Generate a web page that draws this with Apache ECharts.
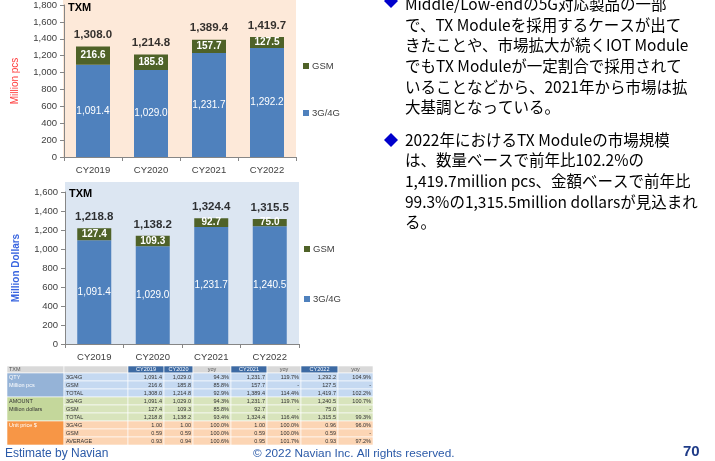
<!DOCTYPE html>
<html>
<head>
<meta charset="utf-8">
<script src="https://cdn.jsdelivr.net/npm/echarts@6/dist/echarts.min.js"></script>
<style>
html,body{margin:0;padding:0;background:#fff;}
#main{width:715px;height:461px;}
</style>
</head>
<body>
<div id="main"></div>
<script>
// データ
var years = ["CY2019","CY2020","CY2021","CY2022"];
var qty3g = [1091.4, 1029.0, 1231.7, 1292.2];
var qtyGsm = [216.6, 185.8, 157.7, 127.5];
var qtyTotal = [1308.0, 1214.8, 1389.4, 1419.7];
var amt3g = [1091.4, 1029.0, 1231.7, 1240.5];
var amtGsm = [127.4, 109.3, 92.7, 75.0];
var amtTotal = [1218.8, 1138.2, 1324.4, 1315.5];
var price3g = [1.00, 1.00, 1.00, 0.96];
var priceGsm = [0.59, 0.59, 0.59, 0.59];
var priceAvg = [0.93, 0.94, 0.95, 0.93];
var yoyQty3g = ["94.3%","119.7%","104.9%"];
var yoyQtyGsm = ["85.8%","-","-"];
var yoyQtyTotal = ["92.9%","114.4%","102.2%"];
var yoyAmt3g = ["94.3%","119.7%","100.7%"];
var yoyAmtGsm = ["85.8%","-","-"];
var yoyAmtTotal = ["93.4%","116.4%","99.3%"];
var yoyPrice3g = ["100.0%","100.0%","96.0%"];
var yoyPriceGsm = ["100.0%","100.0%","-"];
var yoyPriceAvg = ["100.6%","101.7%","97.2%"];

var bullet1 = [
    "Middle/Low-endの5G対応製品の一部",
    "で、TX Moduleを採用するケースが出て",
    "きたことや、市場拡大が続くIOT Module",
    "でもTX Moduleが一定割合で採用されて",
    "いることなどから、2021年から市場は拡",
    "大基調となっている。"
];
var bullet2 = [
    "2022年におけるTX Moduleの市場規模",
    "は、数量ベースで前年比102.2%の",
    "1,419.7million pcs、金額ベースで前年比",
    "99.3%の1,315.5million dollarsが見込まれ",
    "る。"
];

function fmt1(v){ return v.toLocaleString("en-US",{minimumFractionDigits:1,maximumFractionDigits:1}); }
function fmt2(v){ return v.toFixed(2); }

var blue = "#4f81bd", green = "#4f6228";
var latin = "Liberation Sans, Arial, sans-serif";
var jp = "Noto Sans CJK JP";

var chart = echarts.init(document.getElementById("main"));

function xAx(i){
    return {
        gridIndex:i,
        type:"category",
        data:years,
        axisLine:{lineStyle:{color:"#868686",width:1}},
        axisTick:{show:true,length:4,lineStyle:{color:"#868686"}},
        axisLabel:{color:"#404040",fontSize:9.5,fontFamily:latin,margin:8}
    };
}
function yAx(i,max,name,nameColor,weight){
    return {
        gridIndex:i,
        type:"value",
        min:0,
        max:max,
        interval:200,
        name:name,
        nameLocation:"middle",
        nameGap:44,
        nameTextStyle:{color:nameColor,fontSize:10,fontWeight:weight,fontFamily:latin},
        splitLine:{show:false},
        axisLine:{show:true,lineStyle:{color:"#868686",width:1}},
        axisTick:{show:true,length:4,lineStyle:{color:"#868686"}},
        axisLabel:{color:"#404040",fontSize:9.5,fontFamily:latin,margin:7,
            formatter:function(v){ return v.toLocaleString("en-US"); }}
    };
}
function barSeries(name,i,data,color,bold){
    return {
        name:name, type:"bar", xAxisIndex:i, yAxisIndex:i, stack:"s"+i,
        barWidth:34, data:data, itemStyle:{color:color},
        label:{show:true,position:"inside",color:"#fff",fontSize:10,fontFamily:latin,
            fontWeight:bold?"bold":"normal",
            formatter:function(p){ return fmt1(p.value); }}
    };
}
function totalSeries(i,data){
    return {
        name:"TOTAL", type:"scatter", xAxisIndex:i, yAxisIndex:i, data:data,
        symbolSize:1, itemStyle:{color:"transparent"}, silent:true,
        label:{show:true,position:"top",distance:5,color:"#000",fontSize:11.5,
            fontWeight:"bold",fontFamily:latin,
            formatter:function(p){ return fmt1(p.value); }}
    };
}
function leg(name,left,top){
    return {
        data:[name], left:left, top:top, orient:"vertical", padding:0,
        icon:"rect", itemWidth:6, itemHeight:6, itemGap:0, selectedMode:false,
        textStyle:{color:"#404040",fontSize:9.5,fontFamily:latin,padding:[0,0,0,-2]}
    };
}

// グラフィック（背景・テキスト・表）
var g = [];
g.push({type:"rect",z:-1,shape:{x:63,y:0,width:233,height:158},style:{fill:"#fde9d9"}});
g.push({type:"rect",z:-1,shape:{x:65,y:182,width:234,height:162},style:{fill:"#dce6f2"}});
g.push({type:"text",x:68,y:8,style:{text:"TXM",font:"bold 11px "+latin,fill:"#000",verticalAlign:"middle"}});
g.push({type:"text",x:69,y:194,style:{text:"TXM",font:"bold 11px "+latin,fill:"#000",verticalAlign:"middle"}});

// 右側の文章
var lh = 20.6;
function diamond(cx,cy){
    g.push({type:"polygon",shape:{points:[[cx,cy-7],[cx+7,cy],[cx,cy+7],[cx-7,cy]]},style:{fill:"#0000cc"}});
}
diamond(391,1);
bullet1.forEach(function(t,k){
    g.push({type:"text",x:405,y:4.4+k*lh,style:{text:t,font:"15.5px '"+jp+"'",fill:"#000",verticalAlign:"middle"}});
});
diamond(391,140);
bullet2.forEach(function(t,k){
    g.push({type:"text",x:405,y:140+k*lh,style:{text:t,font:"15.5px '"+jp+"'",fill:"#000",verticalAlign:"middle"}});
});

// 表
var colX = [7,64,128,164,193,231,267,301,338,373];
var rowY = [366,373,381,389,397,405,413,421,429,437,445];
var tableHead = ["TXM","","CY2019","CY2020","yoy","CY2021","yoy","CY2022","yoy"];
function numRow(label,vals,yoy,f){
    return [label,f(vals[0]),f(vals[1]),yoy[0],f(vals[2]),yoy[1],f(vals[3]),yoy[2]];
}
var sections = [
    {title:["QTY","Million pcs"],head:"#95b3d7",fill:"#c5d9f1",tcol:"#fff",rows:[
        numRow("3G/4G",qty3g,yoyQty3g,fmt1),
        numRow("GSM",qtyGsm,yoyQtyGsm,fmt1),
        numRow("TOTAL",qtyTotal,yoyQtyTotal,fmt1)]},
    {title:["AMOUNT","Million dollars"],head:"#c4d79b",fill:"#d8e4bc",tcol:"#333",rows:[
        numRow("3G/4G",amt3g,yoyAmt3g,fmt1),
        numRow("GSM",amtGsm,yoyAmtGsm,fmt1),
        numRow("TOTAL",amtTotal,yoyAmtTotal,fmt1)]},
    {title:["Unit price $",""],head:"#f79646",fill:"#fcd5b4",tcol:"#fff",rows:[
        numRow("3G/4G",price3g,yoyPrice3g,fmt2),
        numRow("GSM",priceGsm,yoyPriceGsm,fmt2),
        numRow("AVERAGE",priceAvg,yoyPriceAvg,fmt2)]}
];
var tf = "5.5px "+latin;
tableHead.forEach(function(t,c){
    var isCY = t.indexOf("CY")===0;
    g.push({type:"rect",shape:{x:colX[c],y:rowY[0],width:colX[c+1]-colX[c],height:rowY[1]-rowY[0]},
        style:{fill:isCY?"#3d6aa3":"#d9d9d9",stroke:"#fff",lineWidth:0.6}});
    g.push({type:"text",x:c<2?colX[c]+2:(colX[c]+colX[c+1])/2,y:(rowY[0]+rowY[1])/2,
        style:{text:t,font:tf,fill:isCY?"#fff":"#555",align:c<2?"left":"center",verticalAlign:"middle"}});
});
sections.forEach(function(s,si){
    var y0 = rowY[1+si*3], y1 = rowY[4+si*3];
    g.push({type:"rect",shape:{x:colX[0],y:y0,width:colX[1]-colX[0],height:y1-y0},
        style:{fill:s.head,stroke:"#fff",lineWidth:0.6}});
    s.title.forEach(function(t,k){
        g.push({type:"text",x:colX[0]+2,y:(rowY[1+si*3+k]+rowY[2+si*3+k])/2,
            style:{text:t,font:tf,fill:s.tcol,verticalAlign:"middle"}});
    });
    s.rows.forEach(function(row,ri){
        var ya = rowY[1+si*3+ri], yb = rowY[2+si*3+ri];
        row.forEach(function(t,c){
            var cc = c+1;
            g.push({type:"rect",shape:{x:colX[cc],y:ya,width:colX[cc+1]-colX[cc],height:yb-ya},
                style:{fill:s.fill,stroke:"#fff",lineWidth:0.6}});
            g.push({type:"text",x:c===0?colX[cc]+2:colX[cc+1]-2,y:(ya+yb)/2,
                style:{text:t,font:tf,fill:"#333",align:c===0?"left":"right",verticalAlign:"middle"}});
        });
    });
});

// フッター
g.push({type:"text",x:5,y:454,style:{text:"Estimate by Navian",font:"12px "+latin,fill:"#2b5aa8",verticalAlign:"middle"}});
g.push({type:"text",x:253,y:454,style:{text:"© 2022 Navian Inc. All rights reserved.",font:"11.8px "+latin,fill:"#2b5aa8",verticalAlign:"middle"}});
g.push({type:"text",x:683,y:452,style:{text:"70",font:"bold 15px "+latin,fill:"#1f3c88",verticalAlign:"middle"}});

var option = {
    animation:false,
    backgroundColor:"#fff",
    grid:[
        {left:64,top:5,width:232,height:152},
        {left:65,top:192,width:234,height:152}
    ],
    legend:[
        leg("GSM",303,61),
        leg("3G/4G",303,108),
        leg("GSM",304,244),
        leg("3G/4G",304,294)
    ],
    xAxis:[xAx(0),xAx(1)],
    yAxis:[
        yAx(0,1800,"Million pcs","#ff3b3b","normal"),
        yAx(1,1600,"Million Dollars","#3a66e0","bold")
    ],
    series:[
        barSeries("3G/4G",0,qty3g,blue,false),
        barSeries("GSM",0,qtyGsm,green,true),
        totalSeries(0,qtyTotal),
        barSeries("3G/4G",1,amt3g,blue,false),
        barSeries("GSM",1,amtGsm,green,true),
        totalSeries(1,amtTotal)
    ],
    graphic:{elements:g}
};
chart.setOption(option);
</script>
</body>
</html>
